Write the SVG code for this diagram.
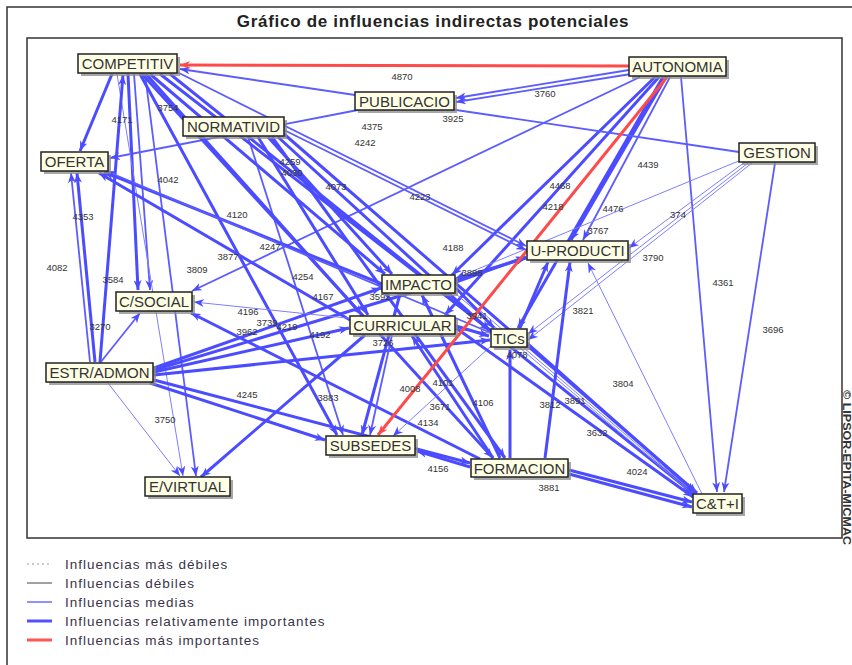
<svg xmlns="http://www.w3.org/2000/svg" width="852" height="665" viewBox="0 0 852 665">
<style>
.frame{fill:none;stroke:#333;stroke-width:1.5}
.title{font-family:"Liberation Sans",Arial,sans-serif;font-weight:bold;font-size:17px;letter-spacing:0.7px;fill:#222}
.t{stroke:#4B4BFF;stroke-width:3;fill:none}
.m{stroke:#5C5CFF;stroke-width:1.8;fill:none}
.n{stroke:#7E7EFF;stroke-width:1;fill:none}
.r{stroke:#FF4A4A;stroke-width:3;fill:none}
.t,.m,.n{marker-end:url(#ab)}
.r{marker-end:url(#ar)}
.lbl{font-family:"Liberation Sans",Arial,sans-serif;font-size:9.5px;fill:#333;text-anchor:middle}
.box{fill:#FFFFE6;stroke:#222;stroke-width:1.5}
.sh{fill:#8a8a8a;opacity:0.75}
.nt{font-family:"Liberation Sans",Arial,sans-serif;font-size:15px;fill:#333;text-anchor:middle}
.leg{font-family:"Liberation Sans",Arial,sans-serif;font-size:13.5px;letter-spacing:1px;fill:#3a3448}
</style>
<defs>
<marker id="ab" markerUnits="userSpaceOnUse" markerWidth="10" markerHeight="8" refX="10" refY="4" orient="auto"><path d="M0,0 L10,4 L0,8 L3,4 z" fill="#4B4BFF"/></marker>
<marker id="ar" markerUnits="userSpaceOnUse" markerWidth="10" markerHeight="8" refX="10" refY="4" orient="auto"><path d="M0,0 L10,4 L0,8 L3,4 z" fill="#FF4A4A"/></marker>
</defs>
<rect width="852" height="665" fill="#fff"/>
<path d="M7,665 L7,7 L852,7" class="frame" stroke-width="2"/>
<rect x="27" y="38" width="815" height="500" class="frame"/>
<text x="433" y="27" class="title" text-anchor="middle">Gráfico de influencias indirectas potenciales</text>
<text transform="translate(843,390) rotate(90)" font-family="Liberation Sans,Arial,sans-serif" font-size="10.5" font-weight="bold" fill="#333" textLength="155" lengthAdjust="spacingAndGlyphs">© LIPSOR-EPITA-MICMAC</text>
<g id="connectors">
<line class="m" x1="629" y1="70" x2="456" y2="98"/>
<line class="m" x1="631" y1="74" x2="456" y2="102"/>
<line class="t" x1="655" y1="77" x2="452" y2="275"/>
<line class="t" x1="659" y1="77" x2="445" y2="315"/>
<line class="t" x1="663" y1="77" x2="518" y2="328"/>
<line class="t" x1="666" y1="77" x2="571" y2="240"/>
<line class="m" x1="670" y1="77" x2="583" y2="240"/>
<line class="m" x1="681" y1="77" x2="717" y2="492"/>
<line class="m" x1="640" y1="77" x2="192" y2="291"/>
<line class="m" x1="739" y1="152" x2="180" y2="69"/>
<line class="m" x1="775" y1="163" x2="724" y2="492"/>
<line class="n" x1="748" y1="163" x2="528" y2="334"/>
<line class="n" x1="752" y1="163" x2="528" y2="340"/>
<line class="n" x1="745" y1="162" x2="629" y2="248"/>
<line class="n" x1="741" y1="160" x2="456" y2="278"/>
<line class="m" x1="358" y1="110" x2="110" y2="158"/>
<line class="m" x1="284" y1="130" x2="526" y2="250"/>
<line class="t" x1="268" y1="137" x2="392" y2="274"/>
<line class="t" x1="258" y1="137" x2="368" y2="315"/>
<line class="t" x1="278" y1="137" x2="490" y2="331"/>
<line class="t" x1="272" y1="137" x2="505" y2="458"/>
<line class="t" x1="284" y1="134" x2="697" y2="493"/>
<line class="m" x1="248" y1="137" x2="343" y2="435"/>
<line class="t" x1="112" y1="74" x2="80" y2="151"/>
<line class="t" x1="128" y1="74" x2="138" y2="290"/>
<line class="m" x1="134" y1="74" x2="150" y2="290"/>
<line class="m" x1="145" y1="74" x2="196" y2="476"/>
<line class="n" x1="117" y1="74" x2="183" y2="476"/>
<line class="t" x1="150" y1="74" x2="385" y2="274"/>
<line class="t" x1="146" y1="74" x2="362" y2="315"/>
<line class="t" x1="160" y1="74" x2="490" y2="330"/>
<line class="t" x1="142" y1="74" x2="493" y2="458"/>
<line class="t" x1="140" y1="74" x2="337" y2="435"/>
<line class="t" x1="170" y1="74" x2="694" y2="494"/>
<line class="m" x1="177" y1="72" x2="526" y2="246"/>
<line class="t" x1="100" y1="362" x2="123" y2="75"/>
<line class="t" x1="95" y1="362" x2="77" y2="173"/>
<line class="m" x1="90" y1="362" x2="71" y2="173"/>
<line class="m" x1="100" y1="363" x2="140" y2="313"/>
<line class="n" x1="108" y1="383" x2="180" y2="476"/>
<line class="t" x1="154" y1="368" x2="381" y2="288"/>
<line class="t" x1="154" y1="370" x2="526" y2="258"/>
<line class="t" x1="154" y1="372" x2="349" y2="328"/>
<line class="t" x1="154" y1="375" x2="490" y2="340"/>
<line class="t" x1="150" y1="383" x2="325" y2="440"/>
<line class="t" x1="154" y1="380" x2="470" y2="463"/>
<line class="t" x1="382" y1="284" x2="104" y2="172"/>
<line class="t" x1="350" y1="320" x2="99" y2="173"/>
<line class="m" x1="491" y1="333" x2="106" y2="171"/>
<line class="n" x1="490" y1="333" x2="194" y2="302"/>
<line class="t" x1="480" y1="459" x2="191" y2="313"/>
<line class="t" x1="365" y1="335" x2="201" y2="477"/>
<line class="t" x1="470" y1="467" x2="417" y2="451"/>
<line class="t" x1="400" y1="294" x2="362" y2="435"/>
<line class="m" x1="392" y1="335" x2="370" y2="435"/>
<line class="n" x1="491" y1="346" x2="393" y2="436"/>
<line class="t" x1="569" y1="470" x2="692" y2="502"/>
<line class="t" x1="569" y1="474" x2="692" y2="507"/>
<line class="t" x1="527" y1="343" x2="695" y2="492"/>
<line class="t" x1="456" y1="328" x2="693" y2="497"/>
<line class="n" x1="456" y1="290" x2="693" y2="492"/>
<line class="n" x1="456" y1="294" x2="693" y2="494"/>
<line class="n" x1="702" y1="494" x2="588" y2="263"/>
<line class="t" x1="456" y1="326" x2="489" y2="336"/>
<line class="t" x1="510" y1="458" x2="510" y2="350"/>
<line class="t" x1="545" y1="458" x2="570" y2="262"/>
<line class="t" x1="520" y1="328" x2="548" y2="262"/>
<line class="t" x1="456" y1="282" x2="526" y2="257"/>
<line class="t" x1="456" y1="288" x2="494" y2="328"/>
<line class="t" x1="500" y1="458" x2="422" y2="295"/>
<line class="t" x1="493" y1="458" x2="412" y2="336"/>
<line class="r" x1="629" y1="66" x2="180" y2="65"/>
<line class="r" x1="667" y1="77" x2="378" y2="435"/>
</g>
<g id="labels">
<text class="lbl" x="402" y="80">4870</text>
<text class="lbl" x="545" y="97">3760</text>
<text class="lbl" x="453" y="122">3925</text>
<text class="lbl" x="372" y="130">4375</text>
<text class="lbl" x="365" y="146">4242</text>
<text class="lbl" x="290" y="165">4259</text>
<text class="lbl" x="292" y="176">4030</text>
<text class="lbl" x="336" y="190">4073</text>
<text class="lbl" x="420" y="200">4223</text>
<text class="lbl" x="560" y="189">4468</text>
<text class="lbl" x="553" y="210">4218</text>
<text class="lbl" x="648" y="168">4439</text>
<text class="lbl" x="613" y="212">4476</text>
<text class="lbl" x="678" y="218">374</text>
<text class="lbl" x="598" y="234">3767</text>
<text class="lbl" x="453" y="251">4188</text>
<text class="lbl" x="472" y="276">3898</text>
<text class="lbl" x="653" y="261">3790</text>
<text class="lbl" x="723" y="286">4361</text>
<text class="lbl" x="583" y="314">3821</text>
<text class="lbl" x="773" y="333">3696</text>
<text class="lbl" x="122" y="123">4171</text>
<text class="lbl" x="168" y="111">3754</text>
<text class="lbl" x="168" y="183">4042</text>
<text class="lbl" x="83" y="220">4353</text>
<text class="lbl" x="237" y="218">4120</text>
<text class="lbl" x="57" y="271">4082</text>
<text class="lbl" x="113" y="283">3584</text>
<text class="lbl" x="228" y="260">3877</text>
<text class="lbl" x="270" y="250">4247</text>
<text class="lbl" x="197" y="273">3809</text>
<text class="lbl" x="303" y="280">4254</text>
<text class="lbl" x="323" y="300">4167</text>
<text class="lbl" x="380" y="300">3592</text>
<text class="lbl" x="100" y="330">3270</text>
<text class="lbl" x="248" y="315">4196</text>
<text class="lbl" x="267" y="326">3739</text>
<text class="lbl" x="287" y="330">4219</text>
<text class="lbl" x="247" y="335">3962</text>
<text class="lbl" x="320" y="338">4192</text>
<text class="lbl" x="383" y="346">3726</text>
<text class="lbl" x="477" y="319">3941</text>
<text class="lbl" x="517" y="358">4078</text>
<text class="lbl" x="623" y="387">3804</text>
<text class="lbl" x="328" y="401">3883</text>
<text class="lbl" x="247" y="398">4245</text>
<text class="lbl" x="410" y="392">4008</text>
<text class="lbl" x="443" y="386">4101</text>
<text class="lbl" x="440" y="410">3671</text>
<text class="lbl" x="428" y="426">4134</text>
<text class="lbl" x="483" y="406">4106</text>
<text class="lbl" x="550" y="408">3812</text>
<text class="lbl" x="575" y="404">3891</text>
<text class="lbl" x="597" y="436">3632</text>
<text class="lbl" x="165" y="423">3750</text>
<text class="lbl" x="438" y="472">4156</text>
<text class="lbl" x="549" y="491">3881</text>
<text class="lbl" x="637" y="475">4024</text>
</g>
<g id="n-competitiv"><rect class="sh" x="81" y="57" width="99" height="19"/><rect class="box" x="78" y="54" width="99" height="19"/><text class="nt" x="127.5" y="69">COMPETITIV</text></g>
<g id="n-autonomia"><rect class="sh" x="632" y="60" width="97" height="19"/><rect class="box" x="629" y="57" width="97" height="19"/><text class="nt" x="677.5" y="72">AUTONOMIA</text></g>
<g id="n-publicacio"><rect class="sh" x="358" y="95" width="99" height="18"/><rect class="box" x="355" y="92" width="99" height="18"/><text class="nt" x="404.5" y="106.5">PUBLICACIO</text></g>
<g id="n-normativid"><rect class="sh" x="186" y="120" width="101" height="19"/><rect class="box" x="183" y="117" width="101" height="19"/><text class="nt" x="233.5" y="132">NORMATIVID</text></g>
<g id="n-oferta"><rect class="sh" x="44" y="155" width="67" height="19"/><rect class="box" x="41" y="152" width="67" height="19"/><text class="nt" x="74.5" y="167">OFERTA</text></g>
<g id="n-gestion"><rect class="sh" x="742" y="146" width="76" height="19"/><rect class="box" x="739" y="143" width="76" height="19"/><text class="nt" x="777" y="158">GESTION</text></g>
<g id="n-uproducti"><rect class="sh" x="530" y="244" width="101" height="19"/><rect class="box" x="527" y="241" width="101" height="19"/><text class="nt" x="577.5" y="256">U-PRODUCTI</text></g>
<g id="n-impacto"><rect class="sh" x="385" y="278" width="73" height="18"/><rect class="box" x="382" y="275" width="73" height="18"/><text class="nt" x="418.5" y="289.5">IMPACTO</text></g>
<g id="n-csocial"><rect class="sh" x="119" y="295" width="76" height="19"/><rect class="box" x="116" y="292" width="76" height="19"/><text class="nt" x="154" y="307">C/SOCIAL</text></g>
<g id="n-curricular"><rect class="sh" x="353" y="319" width="105" height="18"/><rect class="box" x="350" y="316" width="105" height="18"/><text class="nt" x="402.5" y="330.5">CURRICULAR</text></g>
<g id="n-tics"><rect class="sh" x="494" y="332" width="36" height="18"/><rect class="box" x="491" y="329" width="36" height="18"/><text class="nt" x="509" y="343.5">TICs</text></g>
<g id="n-estradmon"><rect class="sh" x="49" y="366" width="107" height="19"/><rect class="box" x="46" y="363" width="107" height="19"/><text class="nt" x="99.5" y="378">ESTR/ADMON</text></g>
<g id="n-evirtual"><rect class="sh" x="148" y="480" width="85" height="19"/><rect class="box" x="145" y="477" width="85" height="19"/><text class="nt" x="187.5" y="492">E/VIRTUAL</text></g>
<g id="n-subsedes"><rect class="sh" x="329" y="439" width="89" height="19"/><rect class="box" x="326" y="436" width="89" height="19"/><text class="nt" x="370.5" y="451">SUBSEDES</text></g>
<g id="n-formacion"><rect class="sh" x="474" y="462" width="97" height="18"/><rect class="box" x="471" y="459" width="97" height="18"/><text class="nt" x="519.5" y="473.5">FORMACION</text></g>
<g id="n-cti"><rect class="sh" x="696" y="497" width="49" height="19"/><rect class="box" x="693" y="494" width="49" height="19"/><text class="nt" x="717.5" y="509">C&amp;T+I</text></g>
<g id="legend">
<line x1="27" y1="564" x2="52" y2="564" stroke="#999" stroke-width="1" stroke-dasharray="2,3"/>
<line x1="27" y1="583" x2="52" y2="583" stroke="#444" stroke-width="1"/>
<line x1="27" y1="602" x2="52" y2="602" stroke="#6E6EFF" stroke-width="1.5"/>
<line x1="27" y1="621" x2="52" y2="621" stroke="#5050FF" stroke-width="3"/>
<line x1="27" y1="640" x2="52" y2="640" stroke="#FF5555" stroke-width="3"/>
<text class="leg" x="65" y="569">Influencias más débiles</text>
<text class="leg" x="65" y="588">Influencias débiles</text>
<text class="leg" x="65" y="607">Influencias medias</text>
<text class="leg" x="65" y="626">Influencias relativamente importantes</text>
<text class="leg" x="65" y="645">Influencias más importantes</text>
</g>
</svg>
